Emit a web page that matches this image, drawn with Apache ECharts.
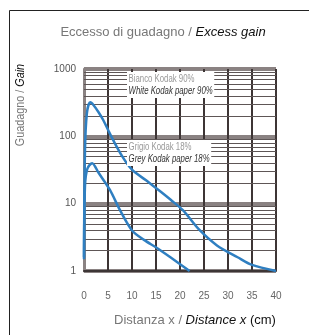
<!DOCTYPE html>
<html>
<head>
<meta charset="utf-8">
<script src="https://cdn.jsdelivr.net/npm/echarts@6/dist/echarts.min.js"></script>
<style>
html,body{margin:0;padding:0;background:#fff;}
#chart_gain{width:309px;height:335px;}
</style>
</head>
<body>
<div id="chart_gain"></div>
<script>
// tick labels on x
var x_ticks = [0, 5, 10, 15, 20, 25, 30, 35, 40];
// minor lines of the log paper
var minor_lines = [2, 3, 4, 5, 6, 7, 8, 9, 20, 30, 40, 50, 60, 70, 80, 90, 200, 300, 400, 500, 600, 700, 800, 900];
// Bianco Kodak 90% / White Kodak paper 90%
var white_90 = [[0, 1.6], [0.2, 60], [0.6, 220], [1.3, 320], [2, 290], [3, 230], [4, 175], [5, 125], [6, 90], [8, 50], [10, 32], [13, 22], [16, 15], [18, 11.5], [20.6, 8], [24, 4.1], [27.7, 2.4], [32, 1.6], [35, 1.23], [40, 1]];
// Grigio Kodak 18% / Grey Kodak paper 18%
var grey_18 = [[0, 1.5], [0.2, 18], [0.7, 33], [1.7, 40], [3, 29], [5.4, 16], [7.5, 8], [10, 4], [12.5, 2.9], [15.2, 2.2], [18, 1.6], [22, 1]];

var myChart = echarts.init(document.getElementById('chart_gain'));
var font = "'Liberation Sans', sans-serif";
var option = {
    animation: false,
    grid: {
        left: 84,
        right: 33,
        top: 69,
        bottom: 64
    },
    xAxis: {
        type: 'value',
        min: 0,
        max: 40,
        interval: 5,
        axisLine: { lineStyle: { color: '#3d3535', width: 2 } },
        axisTick: { show: false },
        axisLabel: {
            color: '#666',
            fontSize: 10,
            fontFamily: font,
            margin: 20,
            formatter: function(v){ return x_ticks.indexOf(v) >= 0 ? String(v) : ''; }
        },
        splitLine: { show: true, lineStyle: { color: '#3d3535', width: 2 } }
    },
    yAxis: {
        type: 'log',
        logBase: 10,
        min: 1,
        max: 1000,
        axisLine: { show: true, lineStyle: { color: '#8a8282', width: 3 } },
        axisTick: { show: false },
        axisLabel: {
            color: '#555', fontSize: 10, fontFamily: font, margin: 8,
            formatter: function(v){ return String(Math.round(v)); }
        },
        splitLine: { show: true, lineStyle: { color: '#8a8282', width: 4 } }
    },
    series: [
        {
            name: 'White Kodak paper 90%',
            type: 'line',
            smooth: 0.3,
            symbol: 'none',
            lineStyle: { color: '#2f7fc1', width: 2.5 },
            data: white_90,
            z: 5,
            markLine: {
                silent: true,
                symbol: 'none',
                label: { show: false },
                lineStyle: { color: '#5e5656', width: 1.2, type: 'solid' },
                data: minor_lines.map(function(v){ return { yAxis: v }; }),
                z: 1
            }
        },
        {
            name: 'Grey Kodak paper 18%',
            type: 'line',
            smooth: 0.3,
            symbol: 'none',
            lineStyle: { color: '#2f7fc1', width: 2.5 },
            data: grey_18,
            z: 5
        }
    ],
    graphic: [
        {
            type: 'rect',
            shape: { x: 9.5, y: 10.5, width: 400, height: 400 },
            style: { fill: null, stroke: '#222', lineWidth: 1 },
            silent: true
        },
        {
            type: 'text',
            x: 163, y: 32,
            style: {
                text: '{a|Eccesso di guadagno / }{b|Excess gain}',
                align: 'center', verticalAlign: 'middle',
                rich: {
                    a: { fontSize: 13, fontFamily: font, fill: '#777' },
                    b: { fontSize: 13, fontFamily: font, fill: '#111', fontStyle: 'italic' }
                }
            }
        },
        {
            type: 'text',
            x: 21, y: 105,
            rotation: Math.PI / 2,
            scaleX: 0.9,
            style: {
                text: '{a|Guadagno / }{b|Gain}',
                align: 'center', verticalAlign: 'middle',
                rich: {
                    a: { fontSize: 12, fontFamily: font, fill: '#777' },
                    b: { fontSize: 12, fontFamily: font, fill: '#111', fontStyle: 'italic' }
                }
            }
        },
        {
            type: 'text',
            x: 195, y: 320,
            style: {
                text: '{a|Distanza x / }{b|Distance x }{c|(cm)}',
                align: 'center', verticalAlign: 'middle',
                rich: {
                    a: { fontSize: 13, fontFamily: font, fill: '#777' },
                    b: { fontSize: 13, fontFamily: font, fill: '#111', fontStyle: 'italic' },
                    c: { fontSize: 13, fontFamily: font, fill: '#111' }
                }
            }
        },
        {
            type: 'text',
            x: 127, y: 85,
            z: 10,
            scaleX: 0.78,
            style: {
                text: '{a|Bianco Kodak 90%}\n{b|White Kodak paper 90%}',
                align: 'left', verticalAlign: 'middle',
                backgroundColor: '#fff',
                padding: [1, 2, 1, 2],
                rich: {
                    a: { fontSize: 10, fontFamily: font, fill: '#999', lineHeight: 12 },
                    b: { fontSize: 10, fontFamily: font, fill: '#333', fontStyle: 'italic', lineHeight: 12 }
                }
            }
        },
        {
            type: 'text',
            x: 127, y: 153,
            z: 10,
            scaleX: 0.78,
            style: {
                text: '{a|Grigio Kodak 18%}\n{b|Grey Kodak paper 18%}',
                align: 'left', verticalAlign: 'middle',
                backgroundColor: '#fff',
                padding: [1, 2, 1, 2],
                rich: {
                    a: { fontSize: 10, fontFamily: font, fill: '#999', lineHeight: 12 },
                    b: { fontSize: 10, fontFamily: font, fill: '#333', fontStyle: 'italic', lineHeight: 12 }
                }
            }
        }
    ]
};
myChart.setOption(option);
</script>
</body>
</html>
